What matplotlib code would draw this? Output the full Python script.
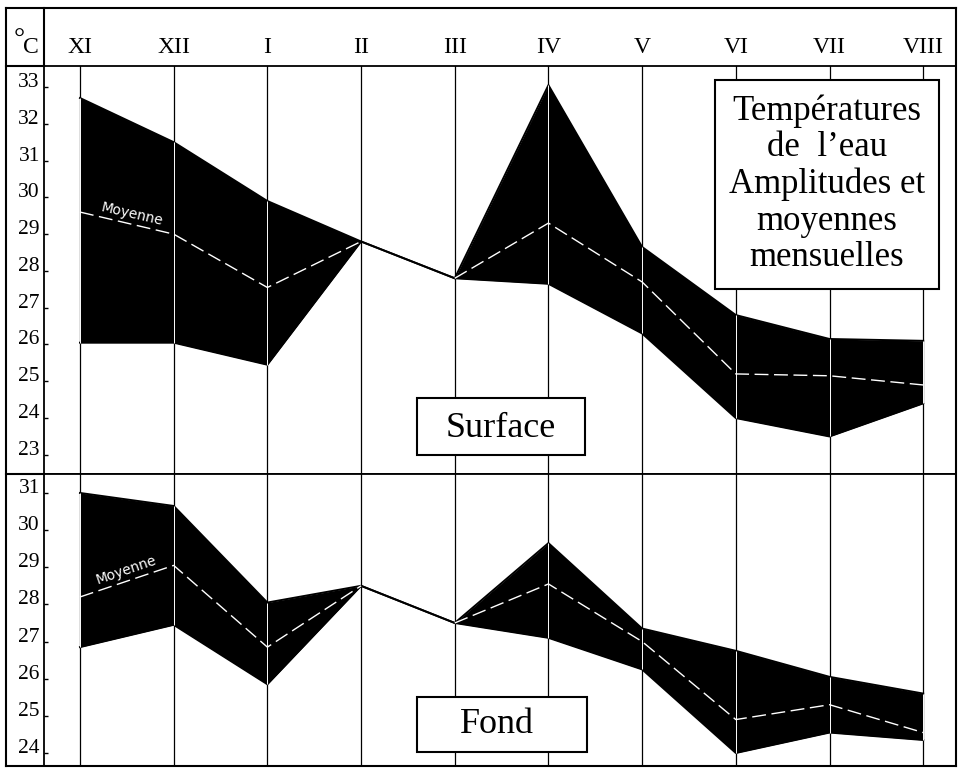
import numpy as np
import matplotlib.pyplot as plt
from matplotlib.lines import Line2D
from matplotlib.patches import Rectangle

# --- data (degrees C), one value per month from November to August ---
MONTHS = ['XI', 'XII', 'I', 'II', 'III', 'IV', 'V', 'VI', 'VII', 'VIII']

SURF_MAX = [32.7, 31.5, 29.9, 28.8, 27.8, 33.05, 28.65, 26.8, 26.15, 26.1]
SURF_MEAN = [29.6, 29.0, 27.55, 28.8, 27.8, 29.3, 27.7, 25.2, 25.15, 24.9]
SURF_MIN = [26.05, 26.05, 25.45, 28.8, 27.8, 27.65, 26.3, 24.0, 23.5, 24.4]

FOND_MAX = [31.0, 30.65, 28.05, 28.5, 27.5, 29.65, 27.35, 26.75, 26.05, 25.6]
FOND_MEAN = [28.2, 29.05, 26.85, 28.5, 27.5, 28.55, 27.0, 24.9, 25.3, 24.55]
FOND_MIN = [26.85, 27.45, 25.85, 28.5, 27.5, 27.1, 26.25, 24.0, 24.55, 24.35]

SURF_TICKS = list(range(23, 34))
FOND_TICKS = list(range(24, 32))

TITLE_LINES = ['Températures', 'de  l\u2019eau', 'Amplitudes et', 'moyennes', 'mensuelles']

SERIF = 'Liberation Serif'
W, H = 958, 770


def fx(x):
    return x / W


def fy(y):
    return 1 - y / H


fig = plt.figure(figsize=(W / 100, H / 100), dpi=100)
fig.patch.set_facecolor('white')

LEFT, RIGHT = 44, 956


def make_axes(top, bottom):
    return fig.add_axes([fx(LEFT), fy(bottom), fx(RIGHT) - fx(LEFT), fy(top) - fy(bottom)])


def draw_panel(ax, hi, mean, lo, ticks, ylim):
    x = np.arange(len(MONTHS))
    hi, mean, lo = map(np.asarray, (hi, mean, lo))
    ax.set_xlim(-0.384, 9.35)
    ax.set_ylim(*ylim)
    for xi in x:
        ax.axvline(xi, color='black', lw=0.9, zorder=1)
    ax.fill_between(x, lo, hi, color='black', lw=0, zorder=2)
    ax.plot(x, hi, color='black', lw=1.4, zorder=3)
    ax.plot(x, lo, color='black', lw=1.4, zorder=3)
    # month lines show as thin white seams through the band
    ax.vlines(x, lo, hi, color='white', lw=0.7, zorder=4)
    # mean line only where the band is open (II-III is a single reading)
    for seg in (slice(0, 4), slice(4, None)):
        ax.plot(x[seg], mean[seg], color='white', lw=1.0, dashes=(10, 4), zorder=5)
    ax.set_xticks([])
    ax.set_yticks(ticks)
    ax.set_yticklabels([str(t) for t in ticks], fontfamily=SERIF, fontsize=15.5)
    ax.tick_params(axis='y', direction='in', length=3, width=1, pad=3)
    for lbl in ax.get_yticklabels():
        lbl.set_va('baseline')
    for s in ax.spines.values():
        s.set_linewidth(1.3)


ax1 = make_axes(66, 474)
ax2 = make_axes(474, 766)
draw_panel(ax1, SURF_MAX, SURF_MEAN, SURF_MIN, SURF_TICKS, (22.48, 33.57))
draw_panel(ax2, FOND_MAX, FOND_MEAN, FOND_MIN, FOND_TICKS, (23.65, 31.51))

# month names in the header row
ax1.xaxis.tick_top()
ax1.set_xticks(np.arange(len(MONTHS)))
ax1.set_xticklabels(MONTHS, fontfamily=SERIF, fontsize=17)
ax1.tick_params(axis='x', length=0, pad=6)

ax1.text(0.555, 29.55, 'Moyenne', color='white', fontsize=10, rotation=-13,
         ha='center', va='center', zorder=6)
ax2.text(0.49, 28.93, 'Moyenne', color='white', fontsize=10, rotation=19,
         ha='center', va='center', zorder=6)

# frame, header rule and unit column
lines = [
    ((6, 956), (8, 8)), ((6, 956), (766, 766)),
    ((6, 6), (8, 766)), ((956, 956), (8, 766)),
    ((6, 44), (66, 66)), ((6, 44), (474, 474)),
    ((44, 44), (8, 66)),
]
for xs, ys in lines:
    fig.add_artist(Line2D([fx(v) for v in xs], [fy(v) for v in ys],
                          transform=fig.transFigure, color='black', lw=1.5))

fig.text(fx(19), fy(47), '\u00b0', fontfamily=SERIF, fontsize=20, ha='center', va='baseline')
fig.text(fx(31), fy(53), 'C', fontfamily=SERIF, fontsize=17, ha='center', va='baseline')


def label_box(x0, y0, x1, y1):
    fig.add_artist(Rectangle((fx(x0), fy(y1)), fx(x1) - fx(x0), fy(y0) - fy(y1),
                             transform=fig.transFigure, facecolor='white',
                             edgecolor='black', lw=1.5, zorder=10))


label_box(715, 80, 939, 289)
for i, line in enumerate(TITLE_LINES):
    fig.text(fx(827), fy(120 + 36.5 * i), line, fontfamily=SERIF, fontsize=25,
             ha='center', va='baseline', zorder=11)

label_box(417, 398, 585, 455)
fig.text(fx(501), fy(437), 'Surface', fontfamily=SERIF, fontsize=26,
         ha='center', va='baseline', zorder=11)

label_box(417, 697, 587, 752)
fig.text(fx(497), fy(733), 'Fond', fontfamily=SERIF, fontsize=26,
         ha='center', va='baseline', zorder=11)

fig.savefig('out.png', dpi=100, facecolor='white')
